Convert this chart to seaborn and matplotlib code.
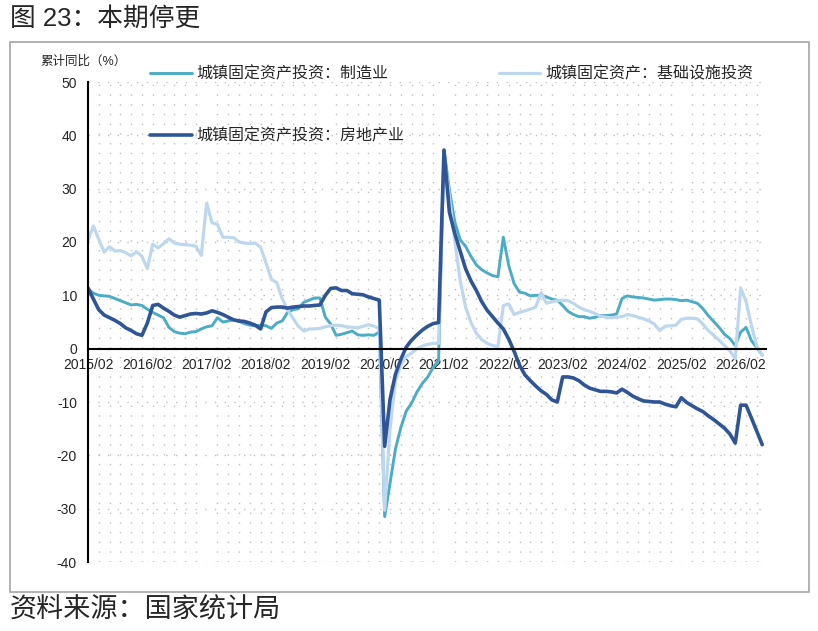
import matplotlib
matplotlib.use("Agg")
import matplotlib.pyplot as plt
import seaborn as sns
import pandas as pd
from matplotlib.lines import Line2D
from matplotlib.patches import Rectangle

# 累计同比, Feb-Dec each year, 2015/02 - 2026/06
periods = [f"{y}/{m:02d}" for y in range(2015, 2027) for m in range(2, 13)][:126]

mfg = [11.2, 10.4, 10.0, 9.9, 9.8, 9.4, 9.0, 8.6, 8.2, 8.3, 8.1,
       7.4, 6.8, 6.3, 5.8, 4.0, 3.2, 2.9, 2.8, 3.1, 3.2, 3.7,
       4.1, 4.3, 5.8, 5.0, 5.2, 5.4, 5.1, 4.7, 4.4, 4.3, 4.4,
       4.3, 3.8, 4.8, 5.2, 6.8, 7.3, 7.5, 8.7, 9.1, 9.5, 9.5,
       5.9, 4.6, 2.5, 2.7, 3.0, 3.3, 2.6, 2.5, 2.6, 2.5, 3.1,
       -31.5, -25.2, -18.8, -14.8, -11.7, -10.2, -8.1, -6.5, -5.3, -3.5, -2.2,
       37.3, 29.8, 23.8, 20.4, 19.2, 17.3, 15.7, 14.8, 14.2, 13.7, 13.5,
       20.9, 15.6, 12.2, 10.6, 10.4, 9.9, 10.0, 10.0, 9.7, 9.3, 9.1,
       8.1, 7.0, 6.4, 6.0, 6.0, 5.7, 5.9, 6.2, 6.2, 6.3, 6.5,
       9.4, 9.9, 9.7, 9.6, 9.5, 9.3, 9.1, 9.2, 9.3, 9.3, 9.2,
       9.0, 9.1, 8.8, 8.5, 7.5, 6.2, 5.1, 4.0, 2.7, 1.9, 0.6,
       3.1, 4.0, 1.5, 0.2, -1.2]

infra = [20.3, 23.0, 20.5, 18.1, 19.1, 18.3, 18.4, 18.0, 17.4, 18.2, 17.3,
         15.0, 19.6, 18.9, 19.7, 20.6, 19.8, 19.6, 19.5, 19.4, 19.2, 17.5,
         27.3, 23.6, 23.3, 20.9, 20.9, 20.8, 20.0, 19.8, 19.7, 19.8, 19.0,
         16.1, 13.0, 12.4, 9.4, 7.3, 5.7, 4.2, 3.3, 3.7, 3.7, 3.8,
         4.1, 4.3, 4.4, 4.3, 4.1, 4.0, 3.9, 4.2, 4.5, 4.2, 3.8,
         -30.3, -15.0, -6.0, -3.0, -1.5, -0.8, 0.0, 0.5, 0.8, 1.0, 1.0,
         36.6, 28.5, 20.2, 12.8, 7.8, 4.9, 2.9, 1.7, 1.0, 0.6, 0.4,
         8.1, 8.4, 6.4, 6.8, 7.1, 7.4, 7.8, 10.5, 8.5, 8.8, 9.0,
         9.1, 9.0, 8.5, 7.8, 7.3, 7.0, 6.6, 6.1, 5.9, 5.8, 5.9,
         6.0, 6.4, 6.2, 5.9, 5.6, 5.2, 4.6, 3.4, 4.2, 4.3, 4.4,
         5.5, 5.7, 5.7, 5.6, 4.6, 3.4, 2.5, 1.6, 0.6, -0.4, -1.9,
         11.4, 8.9, 4.3, 0.5, -1.2]

realty = [11.4, 9.3, 7.3, 6.3, 5.8, 5.3, 4.7, 3.9, 3.4, 2.8, 2.5,
          4.8, 8.1, 8.3, 7.6, 7.0, 6.3, 5.9, 6.2, 6.5, 6.6, 6.5,
          6.7, 7.1, 6.8, 6.4, 5.9, 5.4, 5.2, 5.1, 4.8, 4.4, 3.7,
          6.9, 7.7, 7.8, 7.8, 7.6, 7.8, 7.9, 8.0, 8.0, 8.1, 8.2,
          10.0, 11.3, 11.4, 10.9, 10.9, 10.3, 10.2, 10.1, 9.7, 9.4, 9.1,
          -18.3, -9.5, -4.8, -2.0, 0.3, 1.6, 2.6, 3.5, 4.2, 4.7, 4.9,
          37.2, 25.6, 21.6, 18.3, 15.0, 12.7, 10.9, 8.8, 7.2, 6.0, 4.8,
          3.7, 1.8, -0.5, -3.1, -4.9, -6.0, -7.0, -7.9, -8.6, -9.6, -10.0,
          -5.3, -5.3, -5.5, -6.0, -6.8, -7.4, -7.7, -8.0, -8.0, -8.1, -8.3,
          -7.6, -8.2, -8.9, -9.4, -9.8, -9.9, -10.0, -10.0, -10.4, -10.7, -10.9,
          -9.2, -10.1, -10.7, -11.3, -11.8, -12.6, -13.3, -14.1, -14.9, -16.0, -17.7,
          -10.6, -10.6, -13.0, -15.5, -18.0]

year_labels = [f"{y}/02" for y in range(2015, 2027)]

names = ["城镇固定资产投资：制造业", "城镇固定资产：基础设施投资", "城镇固定资产投资：房地产业"]
colors = ["#4BACC6", "#BDD7EE", "#2F5597"]
widths = [2.1, 2.3, 2.6]

df = pd.DataFrame({"period": periods, names[0]: mfg, names[1]: infra, names[2]: realty})
df["idx"] = range(len(df))

sns.set_style("white")
plt.rcParams["font.family"] = ["Liberation Sans", "Noto Sans CJK SC"]
plt.rcParams["axes.unicode_minus"] = False

W, H = 818, 631
fig = plt.figure(figsize=(W / 100, H / 100), dpi=100)
ax = fig.add_axes([88 / W, 1 - 562 / H, (766 - 88) / W, (562 - 82) / H])

for name, c, lw in zip(names, colors, widths):
    sns.lineplot(data=df, x="idx", y=name, color=c, linewidth=lw, ax=ax, legend=False)

ax.set_xlim(0, 125.7)
ax.set_ylim(-40, 50)
ax.set_yticks(range(-40, 51, 10))
ax.set_xticks([df.index[df["period"] == lab][0] for lab in year_labels])
ax.set_xticklabels(year_labels)
ax.set_xticks(range(2, 126, 2), minor=True)
ax.set_xlabel("")
ax.set_ylabel("")

for s in ["top", "right"]:
    ax.spines[s].set_visible(False)
ax.spines["bottom"].set_position(("data", 0))
ax.spines["bottom"].set_color("black")
ax.spines["bottom"].set_linewidth(1.5)
ax.spines["left"].set_color("black")
ax.spines["left"].set_linewidth(1.5)

ax.tick_params(axis="x", which="major", length=0, pad=7, labelsize=10)
ax.tick_params(axis="x", which="minor", direction="out", length=4, width=1.2, color="black")
ax.tick_params(axis="y", direction="out", length=4, width=1.2, color="black", labelsize=10, pad=4)

ax.grid(False)
ax.grid(axis="y", which="major", color="#BFBFBF", linestyle=(0, (1, 6)), linewidth=1.0)
ax.grid(axis="x", which="minor", color="#BFBFBF", linestyle=(0, (1, 6)), linewidth=1.0)
ax.set_axisbelow(True)

handles = [Line2D([], [], color=c, lw=lw) for c, lw in zip(colors, widths)]
# column-major: col1 = 制造业, 房地产业; col2 = 基础设施
order = [0, 2, 1]
fig.legend([handles[i] for i in order], [names[i] for i in order],
           loc="upper left", bbox_to_anchor=(150 / W, 1 - 66 / H), ncol=2,
           frameon=False, fontsize=11.5, handlelength=2.6, handletextpad=0.3,
           labelspacing=2.9, columnspacing=5.9, borderpad=0, borderaxespad=0)

fig.text(40 / W, 1 - 62 / H, "累计同比（%）", fontsize=9, va="center")
fig.text(10 / W, 1 - 19 / H, "图 23：本期停更", fontsize=18.5, va="center")
fig.text(10 / W, 1 - 611 / H, "资料来源：国家统计局", fontsize=19.5, va="center")
fig.add_artist(Rectangle((10 / W, 1 - 592 / H), 799 / W, 550 / H, transform=fig.transFigure,
                         fill=False, edgecolor="#A6A6A6", linewidth=1.2))

fig.savefig("out.png", dpi=100)
